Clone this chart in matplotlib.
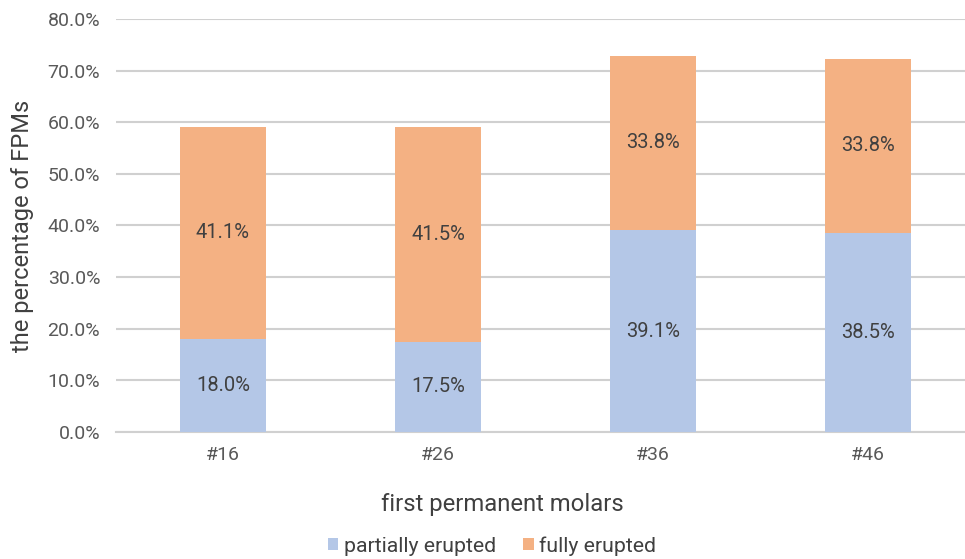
import matplotlib
matplotlib.use("Agg")
import matplotlib.pyplot as plt
from matplotlib.ticker import FuncFormatter
import numpy as np

categories = ["#16", "#26", "#36", "#46"]
partially = [18.0, 17.5, 39.1, 38.5]
fully = [41.1, 41.5, 33.8, 33.8]
series_names = ["partially erupted", "fully erupted"]
yticks = [0, 10, 20, 30, 40, 50, 60, 70, 80]

plt.rcParams['font.family'] = ['Roboto', 'DejaVu Sans']

blue = "#B4C7E7"
orange = "#F4B183"
tick_col = "#595959"
lab_col = "#404040"

fig = plt.figure(figsize=(9.65, 5.59), dpi=100)
W, H = 965, 559
ax = fig.add_axes([115.5 / W, 1 - 432 / H, 860 / W, (432 - 19) / H])

x = np.arange(len(categories))
b1 = ax.bar(x, partially, width=0.4, color=blue, label=series_names[0], zorder=3)
b2 = ax.bar(x, fully, width=0.4, bottom=partially, color=orange, label=series_names[1], zorder=3)

for i in range(len(categories)):
    ax.text(x[i], partially[i] / 2, f"{partially[i]:.1f}%", ha="center", va="center",
            fontsize=14.5, color=lab_col, zorder=4)
    ax.text(x[i], partially[i] + fully[i] / 2, f"{fully[i]:.1f}%", ha="center", va="center",
            fontsize=14.5, color=lab_col, zorder=4)

ax.set_xlim(-0.5, 3.5)
ax.set_ylim(0, 80)
ax.set_yticks(yticks)
ax.yaxis.set_major_formatter(FuncFormatter(lambda v, p: f"{v:.1f}%"))
ax.set_xticks(x)
ax.set_xticklabels(categories)
ax.tick_params(axis="both", length=0, labelsize=14, labelcolor=tick_col)
ax.tick_params(axis="y", pad=11)
ax.tick_params(axis="x", pad=10)
ax.grid(axis="y", color="#D0D0D0", linewidth=1.5, zorder=0)
for s in ["top", "right", "left"]:
    ax.spines[s].set_visible(False)
ax.spines["bottom"].set_color("#D0D0D0")
ax.spines["bottom"].set_linewidth(1.5)

ax.set_ylabel("the percentage of FPMs", fontsize=17, color=lab_col, labelpad=10)
fig.text(502 / W, 1 - 505 / H, "first permanent molars", ha="center", va="center",
         fontsize=17.2, color=lab_col)

fig.legend(handles=[b1, b2], labels=series_names, loc="center", bbox_to_anchor=(492 / W, 1 - 546 / H),
           ncol=2, frameon=False, fontsize=15.3, handlelength=0.5, handleheight=0.5,
           handletextpad=0.25, columnspacing=1.3, labelcolor=lab_col)

fig.savefig("out.png", dpi=100)
